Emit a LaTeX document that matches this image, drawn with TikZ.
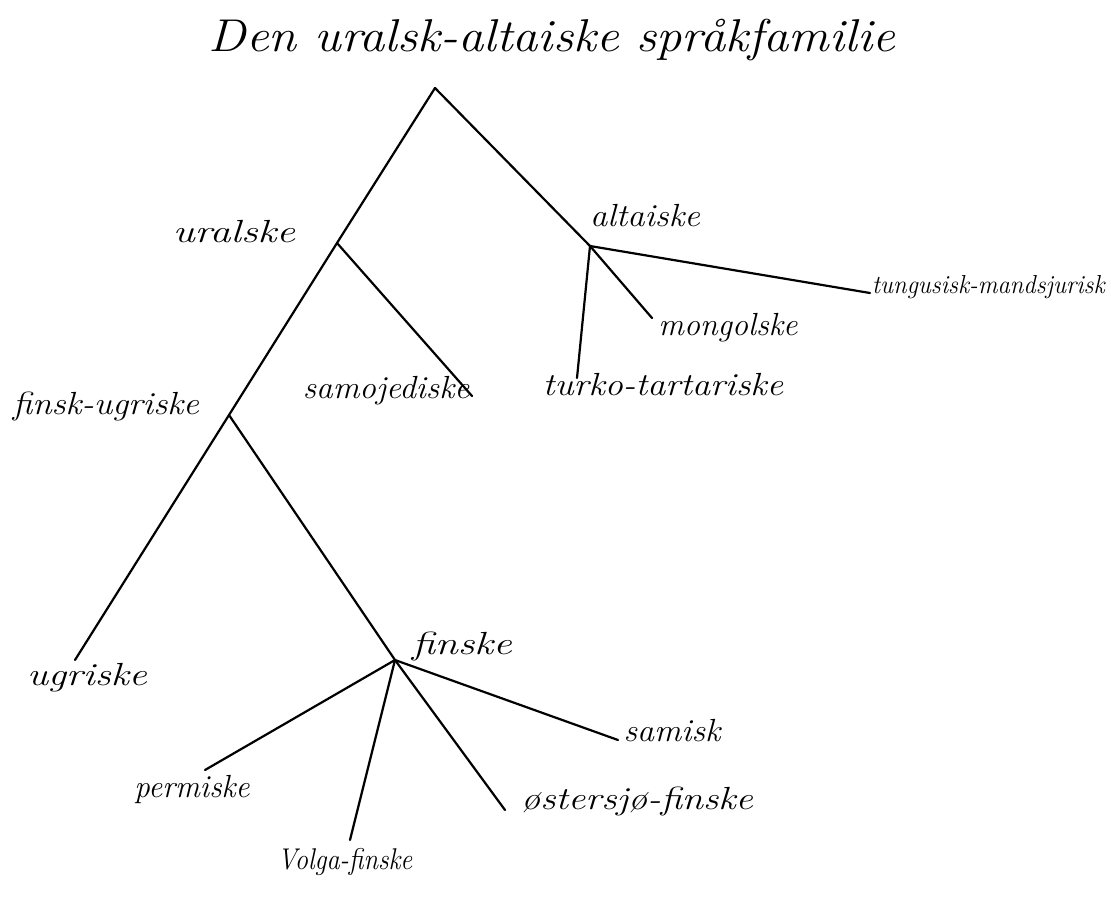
\documentclass[tikz,border=0pt]{standalone}
\usepackage{fontspec}
\usepackage{graphicx}
\newcommand{\hwide}[2]{\scalebox{#1}[1]{#2}}
\begin{document}
\begin{tikzpicture}[x=1pt,y=-1pt,
  branch/.style={line width=2.2pt,line cap=round},
  lab/.style={font=\fontsize{#1}{#1}\selectfont\itshape,inner sep=0pt,anchor=center},
  lab/.default=32,
  ttl/.style={font=\fontsize{46}{50}\selectfont\itshape,inner sep=0pt}]
\useasboundingbox (0,0) rectangle (1111,898);
% title
\node[ttl] (title) at (552,40) {\hwide{1.1}{Den uralsk-altaiske språkfamilie}};
% junctions
\coordinate (root) at (435,88);
\coordinate (ur) at (337,243);
\coordinate (fu) at (229,415);
\coordinate (al) at (590,246);
\coordinate (fi) at (395,660);
% leaf ends
\coordinate (ugE) at (75,660);
\coordinate (saE) at (472,396);
\coordinate (tuE) at (870,293);
\coordinate (moE) at (652,318);
\coordinate (ttE) at (577,378);
\coordinate (smE) at (618,740);
\coordinate (osE) at (505,810);
\coordinate (voE) at (350,840);
\coordinate (peE) at (205,770);
% labels
\node[lab] (uralske) at (234,232) {\hwide{1.3}{uralske}};
\node[lab] (altaiske) at (645,216) {\hwide{1.08}{altaiske}};
\node[lab=26,anchor=west] (tungusisk) at (872,287) {\hwide{0.95}{tungusisk-mandsjurisk}};
\node[lab] (mongolske) at (728,328) {mongolske};
\node[lab] (turko) at (663,385) {\hwide{1.13}{turko-tartariske}};
\node[lab] (samojed) at (386,391) {\hwide{1.04}{samojediske}};
\node[lab] (finskugr) at (106,406) {\hwide{1.1}{finsk-ugriske}};
\node[lab] (ugriske) at (87,678) {\hwide{1.25}{ugriske}};
\node[lab] (finske) at (462,646) {\hwide{1.3}{finske}};
\node[lab] (samisk) at (672,731) {\hwide{1.06}{samisk}};
\node[lab] (permiske) at (192,789) {\hwide{0.97}{permiske}};
\node[lab=30] (volga) at (345,862) {\hwide{0.88}{Volga-finske}};
\node[lab] (oster) at (637,801) {\hwide{1.2}{østersjø-finske}};
% branches
\draw[branch] (root) -- (ur) -- (fu);
\draw[branch] (root) -- (al);
\draw[branch] (ur) -- (saE);
\draw[branch] (fu) -- (ugE);
\draw[branch] (fu) -- (fi);
\draw[branch] (al) -- (tuE);
\draw[branch] (al) -- (moE);
\draw[branch] (al) -- (ttE);
\draw[branch] (fi) -- (smE);
\draw[branch] (fi) -- (osE);
\draw[branch] (fi) -- (voE);
\draw[branch] (fi) -- (peE);
\end{tikzpicture}
\end{document}
